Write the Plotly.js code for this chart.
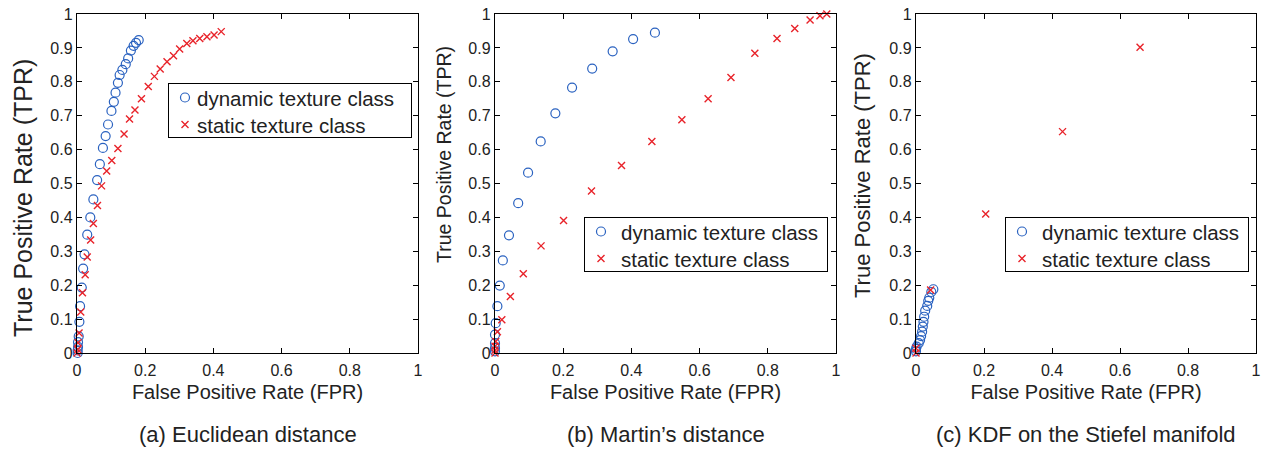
<!DOCTYPE html>
<html>
<head>
<meta charset="utf-8">
<script src="https://cdn.plot.ly/plotly-3.0.1.min.js"></script>
<style>html,body{margin:0;padding:0;background:#fff;}#chart{width:1262px;height:452px;}</style>
</head>
<body>
<div id="chart"></div>
<script>
// ---- data ----
var legendNames = ["dynamic texture class", "static texture class"];
var captions = ["(a) Euclidean distance", "(b) Martin\u2019s distance", "(c) KDF on the Stiefel manifold"];
var xTitle = "False Positive Rate (FPR)";
var yTitle = "True Positive Rate (TPR)";

var aDynX = [0.002,0.002,0.003,0.003,0.005,0.007,0.009,0.014,0.018,0.022,0.030,0.039,0.048,0.059,0.067,0.076,0.084,0.091,0.101,0.108,0.113,0.120,0.125,0.133,0.143,0.150,0.158,0.166,0.173,0.181];
var aDynY = [0.000,0.008,0.018,0.032,0.049,0.092,0.138,0.193,0.249,0.291,0.349,0.400,0.453,0.510,0.557,0.605,0.640,0.674,0.714,0.741,0.768,0.797,0.820,0.835,0.852,0.869,0.892,0.906,0.915,0.923];
var aStaX = [0,0.002,0.003,0.006,0.011,0.016,0.024,0.030,0.040,0.048,0.060,0.072,0.087,0.102,0.120,0.138,0.154,0.170,0.189,0.209,0.227,0.244,0.264,0.283,0.301,0.322,0.340,0.360,0.381,0.402,0.423];
var aStaY = [0,0.010,0.030,0.059,0.121,0.178,0.231,0.283,0.333,0.382,0.435,0.493,0.537,0.568,0.603,0.646,0.690,0.717,0.750,0.786,0.816,0.838,0.859,0.877,0.897,0.913,0.921,0.928,0.933,0.938,0.948];

var bDynX = [0,0,0,0,0.002,0.007,0.014,0.023,0.041,0.068,0.097,0.134,0.177,0.226,0.285,0.345,0.405,0.469];
var bDynY = [0.005,0.015,0.029,0.054,0.088,0.138,0.199,0.273,0.347,0.442,0.532,0.624,0.707,0.783,0.839,0.890,0.926,0.945];
var bStaX = [0,0,0,0.002,0.007,0.020,0.045,0.083,0.135,0.201,0.283,0.371,0.460,0.548,0.625,0.692,0.762,0.827,0.879,0.924,0.953,0.973];
var bStaY = [0,0.008,0.020,0.034,0.063,0.098,0.167,0.234,0.316,0.391,0.478,0.553,0.624,0.688,0.750,0.813,0.884,0.928,0.957,0.982,0.995,1.0];

var cDynX = [0,0,0.002,0.008,0.012,0.015,0.018,0.020,0.022,0.024,0.027,0.033,0.036,0.039,0.045,0.051];
var cDynY = [0.005,0.012,0.019,0.029,0.038,0.050,0.063,0.078,0.092,0.107,0.125,0.139,0.154,0.163,0.180,0.188];
var cStaX = [0,0,0.043,0.205,0.431,0.659];
var cStaY = [0,0.014,0.186,0.410,0.653,0.902];

var xTicks = [0,0.2,0.4,0.6,0.8,1];
var yTicks = [0,0.1,0.2,0.3,0.4,0.5,0.6,0.7,0.8,0.9,1];

// ---- styling ----
var W = 1262, H = 452;
var FONT = "Liberation Sans, Arial, Helvetica, sans-serif";
var BLUE = "#2a62c0", RED = "#e8232a";
var panels = [
  {dx:aDynX, dy:aDynY, sx:aStaX, sy:aStaY, left:77, right:418, leg:[168,83], yt:{x:23, y:198, size:25}},
  {dx:bDynX, dy:bDynY, sx:bStaX, sy:bStaY, left:495, right:836, leg:[584,217], yt:{x:444, y:155, size:19.5}},
  {dx:cDynX, dy:cDynY, sx:cStaX, sy:cStaY, left:916, right:1256, leg:[1005,217], yt:{x:862, y:176, size:22}}
];
var plotTop = 14, plotBottom = 353;
var LEG_W = 244, LEG_H = 55;

var traces = [], layout = {
  width: W, height: H,
  margin: {l:0, r:0, t:0, b:0},
  paper_bgcolor: "#fff", plot_bgcolor: "#fff",
  font: {family: FONT, color: "#222"},
  annotations: []
};

panels.forEach(function(p, i){
  var n = i === 0 ? "" : String(i+1);
  var legName = i === 0 ? "legend" : "legend" + (i+1);
  traces.push({
    type: "scatter", mode: "markers", x: p.dx, y: p.dy,
    xaxis: "x"+n, yaxis: "y"+n, name: legendNames[0], legend: legName,
    cliponaxis: false,
    marker: {symbol: "circle-open", size: 9, color: BLUE, line: {width: 1.2, color: BLUE}}
  });
  traces.push({
    type: "scatter", mode: "markers", x: p.sx, y: p.sy,
    xaxis: "x"+n, yaxis: "y"+n, name: legendNames[1], legend: legName,
    cliponaxis: false,
    marker: {symbol: "x-thin-open", size: 7, color: RED, line: {width: 1.4, color: RED}}
  });
  var axCommon = {
    showgrid: false, zeroline: false, showline: true, linecolor: "#000", linewidth: 1.2,
    mirror: "ticks", ticks: "inside", ticklen: 5, tickwidth: 1, tickcolor: "#000",
    tickfont: {family: FONT, size: 16, color: "#222"}, fixedrange: true
  };
  layout["xaxis"+n] = Object.assign({}, axCommon, {
    domain: [p.left/W, p.right/W], range: [0,1], tickvals: xTicks, anchor: "y"+n,
    ticklabelstandoff: 3,
    title: {text: xTitle, font: {family: FONT, size: 20, color: "#222"}, standoff: 6}
  });
  layout["yaxis"+n] = Object.assign({}, axCommon, {
    domain: [(H-plotBottom)/H, (H-plotTop)/H], range: [0,1], tickvals: yTicks, anchor: "x"+n
  });
  layout[legName] = {
    x: p.leg[0]/W, y: (H-p.leg[1])/H, xanchor: "left", yanchor: "top",
    bgcolor: "#fff", bordercolor: "#000", borderwidth: 1,
    font: {family: FONT, size: 20.5, color: "#222"}, itemwidth: 30,
    tracegroupgap: 0
  };
  // y-axis title (placed as rotated text, its position differs per panel in the reference)
  layout.annotations.push({
    text: yTitle, xref: "paper", yref: "paper", textangle: -90,
    x: p.yt.x/W, y: (H-p.yt.y)/H, xanchor: "center", yanchor: "middle",
    showarrow: false, font: {family: FONT, size: p.yt.size, color: "#222"}
  });
  layout.annotations.push({
    text: captions[i], xref: "paper", yref: "paper",
    x: (p.left+p.right)/2/W, y: (H-434)/H, xanchor: "center", yanchor: "middle",
    showarrow: false, font: {family: FONT, size: 22, color: "#222"}
  });
});

// Tighten the legend boxes to the compact MATLAB-style layout of the reference.
function compactLegends(gd){
  ["legend","legend2","legend3"].forEach(function(id){
    var g = gd.querySelector("g.infolayer > g." + id);
    if(!g) return;
    var items = g.querySelectorAll("g.traces");
    var ys = [14.5, 41.5];
    for(var k = 0; k < items.length && k < 2; k++){
      items[k].setAttribute("transform", "translate(-3," + ys[k] + ")");
      var t = items[k].querySelector("text.legendtext");
      if(t){
        t.setAttribute("x", 32);
        t.querySelectorAll("tspan").forEach(function(ts){ if(ts.hasAttribute("x")) ts.setAttribute("x", 32); });
      }
    }
    var bg = g.querySelector("rect.bg");
    if(bg){ bg.setAttribute("width", LEG_W - 1); bg.setAttribute("height", LEG_H - 1); }
  });
}

var gd = document.getElementById("chart");
Plotly.newPlot(gd, traces, layout, {displayModeBar: false, staticPlot: true}).then(function(){
  compactLegends(gd);
});
</script>
</body>
</html>
